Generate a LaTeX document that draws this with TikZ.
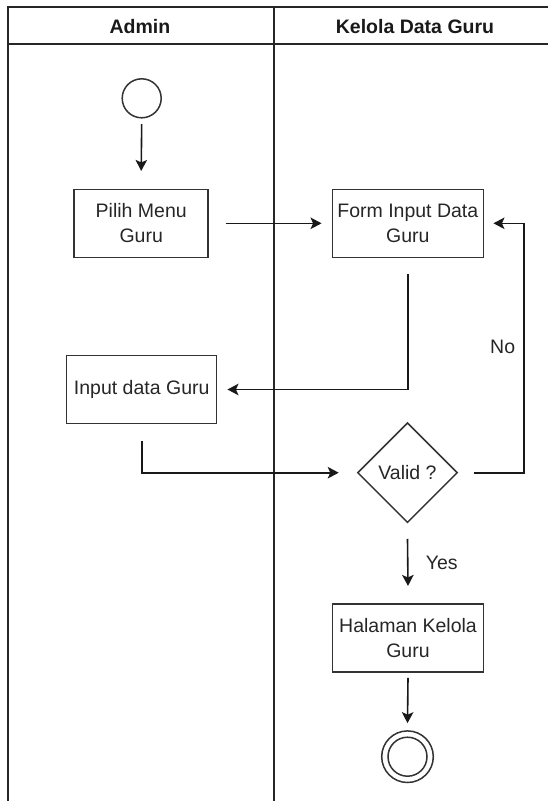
\documentclass[tikz,border=0pt]{standalone}
\usepackage{fontspec}
\setmainfont{Liberation Sans}
\usetikzlibrary{arrows.meta,shapes.geometric}
\begin{document}
\begin{tikzpicture}[x=1pt,y=-1pt,
  lane/.style={line width=1.9pt, draw=black!85},
  act/.style={draw=black!80, line width=1.5pt, rectangle, align=center,
    minimum height=68pt, inner sep=2pt, font=\fontsize{19.5}{25}\selectfont, text=black!85},
  hdr/.style={font=\bfseries\fontsize{19.5}{24}\selectfont, text=black!90},
  lbl/.style={font=\fontsize{19.5}{24}\selectfont, text=black!85},
  arr/.style={draw=black!90, line width=1.6pt, -{Stealth[length=11pt,width=11.5pt,inset=2.5pt]}}
]
\useasboundingbox (0,0) rectangle (548,801);
% swimlane frame
\draw[lane] (548,6.7) -- (8.3,6.7) -- (8.3,801);
\draw[lane] (8.3,44) -- (548,44);
\draw[lane] (274,6.7) -- (274,801);
\node[hdr] (hA) at (140,26.5) {Admin};
\node[hdr] (hK) at (415,26.5) {Kelola Data Guru};
% nodes
\node[circle, draw=black!80, line width=1.5pt, minimum size=39pt, inner sep=0pt] (start) at (141.7,98.3) {};
\node[act, minimum width=134pt] (pilih) at (141.2,223.3) {Pilih Menu\\Guru};
\node[act, minimum width=151pt] (form) at (407.8,223.3) {Form Input Data\\Guru};
\node[act, minimum width=150pt] (input) at (141.7,389.5) {Input data Guru};
\node[diamond, draw=black!80, line width=1.5pt, minimum width=100pt, minimum height=100pt,
  inner sep=0pt, font=\fontsize{19.5}{24}\selectfont, text=black!85] (valid) at (407.5,472.7) {Valid ?};
\node[act, minimum width=151pt] (halaman) at (408,638) {Halaman Kelola\\Guru};
\node[circle, draw=black!80, line width=1.5pt, minimum size=51.6pt, inner sep=0pt] (finish) at (407.5,756.7) {};
\draw[draw=black!80, line width=1.5pt] (finish.center) circle[radius=19.5pt];
% connectors
\draw[arr] ([yshift=-5.5pt]start.south) -- ([yshift=17.6pt]pilih.north);
\draw[arr] ([xshift=16.7pt]pilih.east) -- ([xshift=-10pt]form.west);
\draw[arr] ([yshift=-16pt]form.south) |- ([xshift=10pt]input.east);
\draw[arr] ([yshift=-16.7pt]input.south) |- ([xshift=-18pt]valid.west);
\draw[arr] ([xshift=16pt]valid.east) -- ++(50,0) coordinate (nocorner) |- ([xshift=9.4pt]form.east);
\node[lbl] (no) at (502.7,346.7) {No};
\draw[arr] ([yshift=-15.3pt]valid.south) -- ([yshift=17.3pt]halaman.north);
\node[lbl] (yes) at (441.7,563) {Yes};
\draw[arr] ([yshift=-5pt]halaman.south) -- ([yshift=7pt]finish.north);
\end{tikzpicture}
\end{document}
